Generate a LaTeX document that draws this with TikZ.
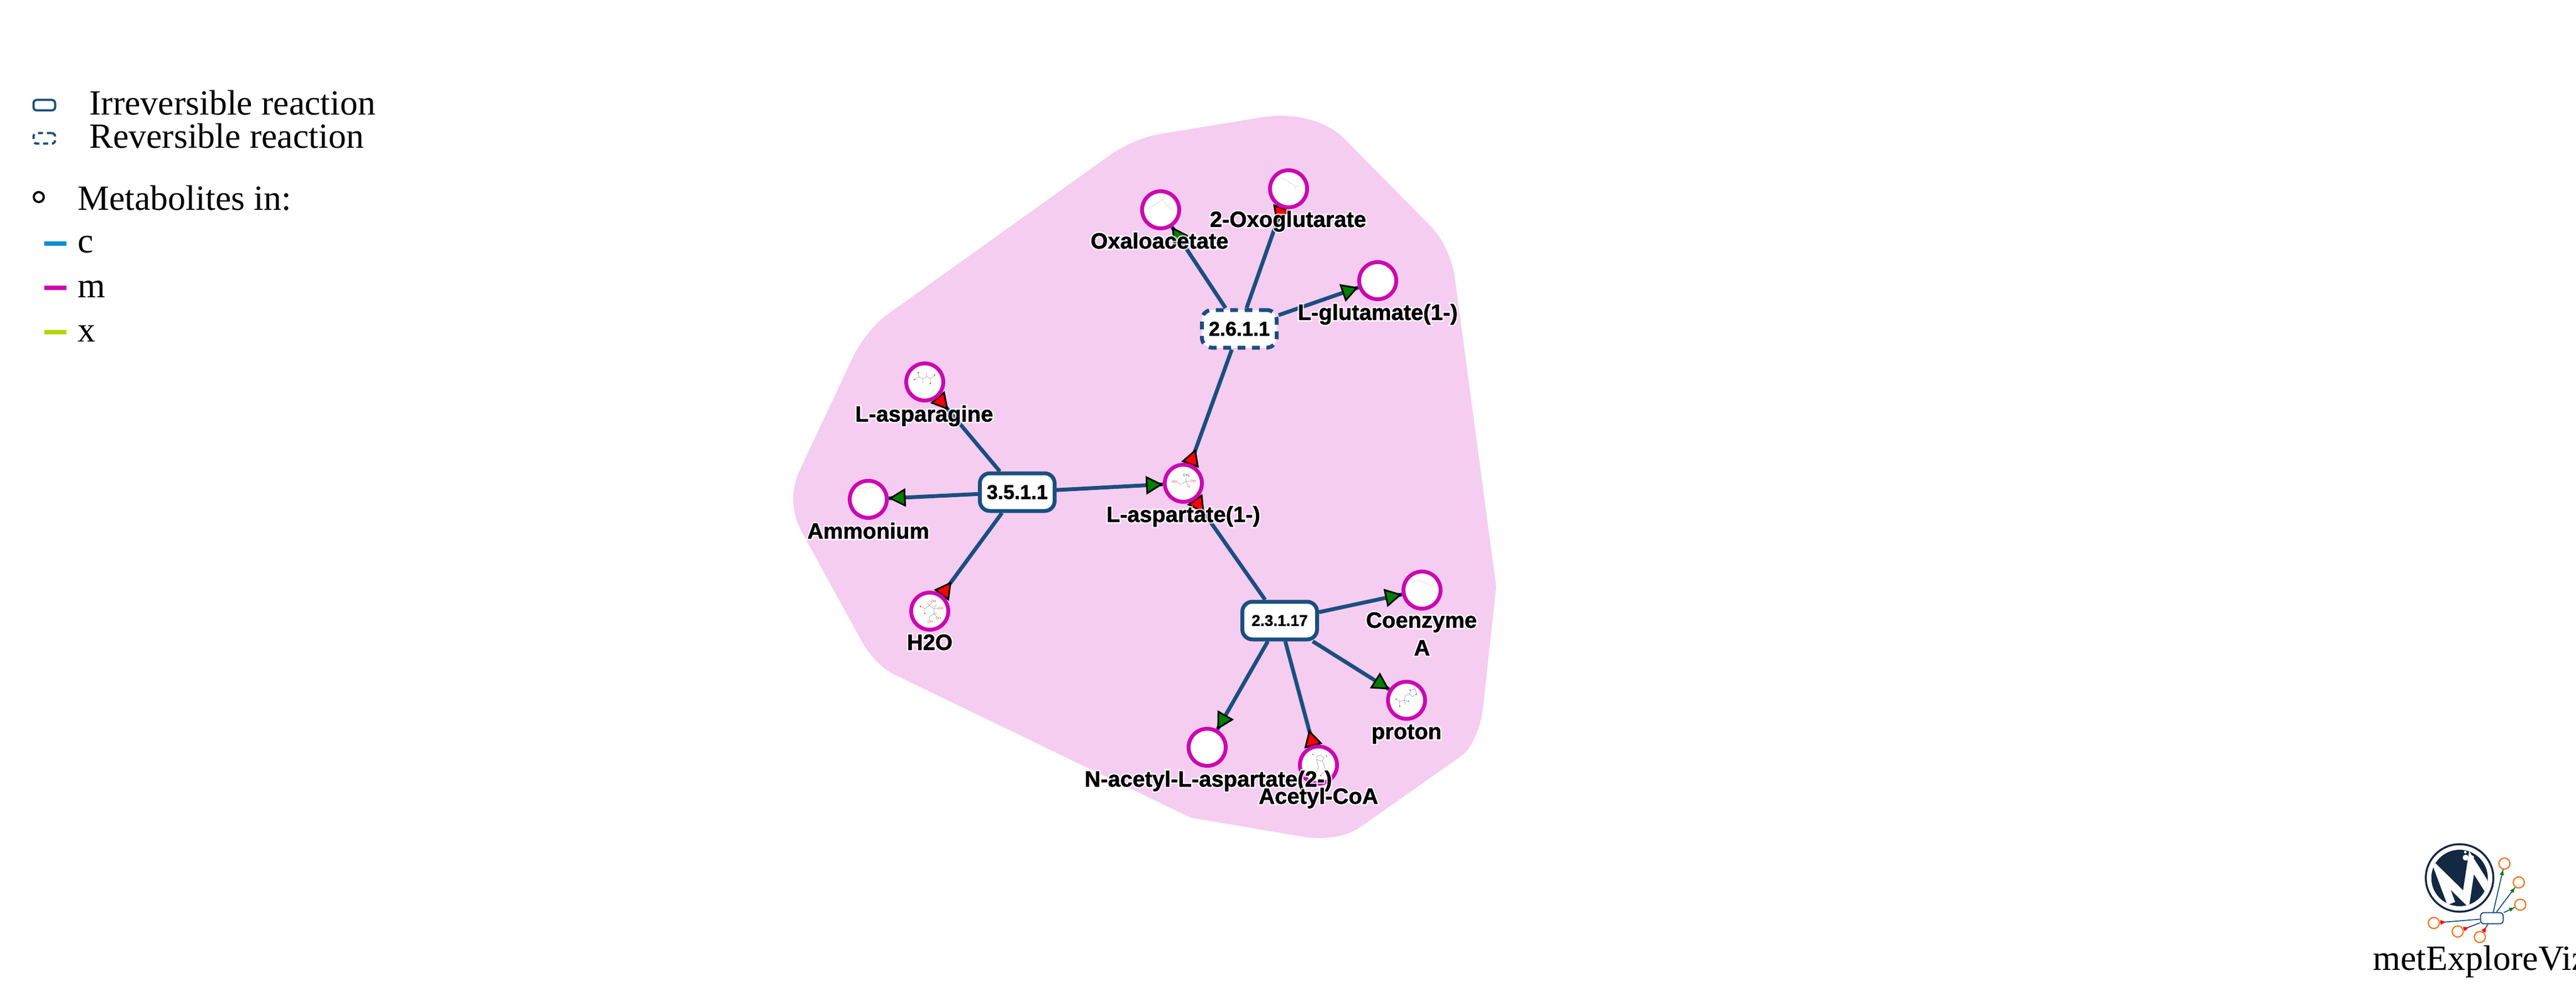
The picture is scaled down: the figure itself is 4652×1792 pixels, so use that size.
\documentclass[tikz,border=0pt]{standalone}
\usepackage{fontspec}
\usetikzlibrary{calc}
\setmainfont{Liberation Serif}
\newfontfamily\labfont[FakeBold=1.2]{Liberation Sans Bold}
\newfontfamily\halfont[FakeBold=14]{Liberation Sans Bold}
\newfontfamily\tinyfont{Liberation Sans}
\definecolor{hullc}{HTML}{F5CDF0}
\definecolor{magc}{HTML}{CC08B0}
\definecolor{linkc}{HTML}{1A4F7F}
\definecolor{cyanc}{HTML}{0A8FD4}
\definecolor{limec}{HTML}{B5D600}
\definecolor{greenc}{HTML}{008000}
\definecolor{logoc}{HTML}{132842}
\definecolor{orangec}{HTML}{F47A2A}
\newcommand\lbl[1]{\leavevmode\rlap{\pgfsetfillopacity{.75}\pgfsetstrokeopacity{.75}{\halfont\color{white}#1}}\pgfsetfillopacity{1}\pgfsetstrokeopacity{1}#1}
\newcommand\prodhead[2]{\path[prodtip] ($(#2)!20pt!(#1)$) -- ($($(#2)!33pt!(#1)$)!7.2pt!90:(#2)$) -- ($($(#2)!33pt!(#1)$)!7.2pt!-90:(#2)$) -- cycle;}
\newcommand\reacthead[2]{\path[reacttip] ($(#2)!31.5pt!(#1)$) -- ($($(#2)!18.5pt!(#1)$)!7.2pt!90:(#2)$) -- ($($(#2)!18.5pt!(#1)$)!7.2pt!-90:(#2)$) -- cycle;}
\newcommand\smallprod[2]{\fill[greenc] ($(#2)!6.5pt!(#1)$) -- ($($(#2)!10.5pt!(#1)$)!2pt!90:(#2)$) -- ($($(#2)!10.5pt!(#1)$)!2pt!-90:(#2)$) -- cycle;}
\newcommand\smallreact[2]{\fill[red] ($(#2)!10.5pt!(#1)$) -- ($($(#2)!6pt!(#1)$)!2.2pt!90:(#2)$) -- ($($(#2)!6pt!(#1)$)!2.2pt!-90:(#2)$) -- cycle;}
\pgfdeclarelayer{hullayer}
\pgfdeclarelayer{edgelayer}
\pgfsetlayers{hullayer,edgelayer,main}
\tikzset{
  metab/.style={circle,draw=magc,fill=white,line width=3.5pt,minimum size=33.5pt,inner sep=0pt},
  rxn/.style={rectangle,draw=linkc,fill=white,line width=3.5pt,rounded corners=9pt,minimum width=67.5pt,minimum height=34pt,inner sep=0pt,font=\labfont\fontsize{18}{18}\selectfont},
  rxnsmall/.style={rxn,font=\labfont\fontsize{14}{14}\selectfont},
  revrxn/.style={rxn,dash pattern=on 7pt off 6pt},
  link/.style={draw=linkc,line width=3.5pt},
  lab/.style={anchor=base,inner sep=0pt,font=\labfont\fontsize{20}{20}\selectfont},
  legtext/.style={anchor=base west,inner sep=0pt,font=\fontsize{32}{32}\selectfont},
  prodtip/.style={fill=greenc,draw=black,line width=1.5pt,line join=miter},
  reacttip/.style={fill=red,draw=black,line width=1.5pt,line join=miter},
  legrxn/.style={rectangle,draw=linkc,line width=2pt,rounded corners=3pt,minimum width=19.5pt,minimum height=9.5pt,inner sep=0pt},
  legdash/.style={legrxn,dash pattern=on 4.5pt off 3.5pt},
  legmet/.style={circle,draw=black,line width=2pt,minimum size=9pt,inner sep=0pt},
  legline/.style={line width=4pt},
  mol/.style={draw=black!35,line width=.35pt},
  molfaint/.style={draw=black!18,line width=.3pt},
  oxy/.style={fill=red!70},
  moltxt/.style={inner sep=0pt,font=\tinyfont\fontsize{3.2}{3.2}\selectfont},
  smet/.style={circle,draw=orangec,fill=white,line width=1.2pt,minimum size=10pt,inner sep=0pt},
  srxn/.style={rectangle,draw=linkc,fill=white,line width=1pt,rounded corners=3pt,minimum width=20.5pt,minimum height=10pt,inner sep=0pt},
  slink/.style={draw=linkc,line width=.9pt},
}
\begin{document}
\begin{tikzpicture}[x=.5pt,y=-.5pt]
\useasboundingbox (0,0) rectangle (4652,1792);
\begin{pgfonlayer}{hullayer}
\fill[white] (0,0) rectangle (4652,1792);
\fill[hullc] (2095,242) -- (2284,211) .. controls (2339,203) and (2396,219) .. (2427,250) -- (2585,410)
  .. controls (2605,431) and (2622,467) .. (2627,500) -- (2702,1060) -- (2677,1288)
  .. controls (2671,1323) and (2655,1355) .. (2637,1367) -- (2455,1495)
  .. controls (2431,1512) and (2389,1518) .. (2350,1511) -- (2150,1477) -- (1614,1218)
  .. controls (1594,1208) and (1571,1185) .. (1557,1160) -- (1449,963)
  .. controls (1431,930) and (1425,890) .. (1445,848) -- (1538,650)
  .. controls (1553,618) and (1578,586) .. (1600,570) -- (2002,282)
  .. controls (2028,263) and (2065,247) .. cycle;
\end{pgfonlayer}

% metabolites
\node[metab] (asn) at (1670,690) {};
\node[metab] (nh) at (1568,902) {};
\node[metab] (hho) at (1679,1104) {};
\node[metab] (asp) at (2137,873) {};
\node[metab] (oaa) at (2096,379) {};
\node[metab] (oxo) at (2327,341) {};
\node[metab] (glu) at (2488,507) {};
\node[metab] (coa) at (2568,1066) {};
\node[metab] (pro) at (2540,1265) {};
\node[metab] (nac) at (2180,1350) {};
\node[metab] (acc) at (2381,1382) {};
% reactions
\node[rxn] (ra) at (1837,889) {3.5.1.1};
\node[revrxn] (rb) at (2238,594) {2.6.1.1};
\node[rxnsmall] (rc) at (2311,1121) {2.3.1.17};

\begin{pgfonlayer}{edgelayer}
\foreach \r/\m in {ra/asn,ra/nh,ra/hho,ra/asp,rb/oaa,rb/oxo,rb/glu,rb/asp,rc/asp,rc/coa,rc/pro,rc/nac,rc/acc}
  \draw[link] (\r) -- (\m);
\reacthead{ra}{asn}\reacthead{ra}{hho}\prodhead{ra}{nh}\prodhead{ra}{asp}
\prodhead{rb}{oaa}\reacthead{rb}{oxo}\prodhead{rb}{glu}\reacthead{rb}{asp}
\reacthead{rc}{asp}\reacthead{rc}{acc}\prodhead{rc}{coa}\prodhead{rc}{pro}\prodhead{rc}{nac}
\end{pgfonlayer}

% molecule sketches inside the metabolites
\begin{scope}[shift={(1625,645)},x=.16667pt,y=-.16667pt]
\draw[mol] (78,122)--(103,108)--(100,85) (103,108)--(125,118)--(145,105)--(165,117)--(188,103) (165,117)--(165,143) (125,118)--(125,143) (145,105)--(145,83);
\fill[oxy] (78,122) circle (.8pt) (100,85) circle (.8pt) (188,97) circle (.8pt) (165,143) circle (.8pt);
\end{scope}
\begin{scope}[shift={(1634,1059)},x=.16667pt,y=-.16667pt]
\draw[mol] (92,112)--(108,122)--(108,143) (108,122)--(133,105)--(158,122)--(158,148)--(133,165)--(133,185) (133,105)--(148,88) (133,105)--(122,88) (158,122)--(170,100) (158,122)--(180,122) (158,148)--(180,150) (158,148)--(175,170);
\fill[oxy] (85,110) circle (.8pt) (108,148) circle (.8pt);
\node[moltxt,text=red!70] (wa) at (155,82) {OH};
\node[moltxt,text=red!70] (wb) at (193,122) {OH};
\node[moltxt,text=red!70] (wc) at (182,175) {OH};
\node[moltxt,text=red!70] (wd) at (138,193) {OH};
\end{scope}
\begin{scope}[shift={(2000,780)},x=.16667pt,y=-.16667pt]
\draw[mol] (378,272)--(395,286)--(425,268)--(425,245) (425,268)--(445,268) (425,268)--(438,290);
\node[moltxt,text=red!80] (aa) at (363,270) {HO};
\node[moltxt,text=red!80] (ab) at (463,267) {OH};
\node[moltxt,text=black!70] (ac) at (430,238) {CH\textsubscript{3}};
\node[moltxt,text=black!50] (ad) at (440,297) {H};
\end{scope}
\begin{scope}[shift={(2495,1220)},x=.16667pt,y=-.16667pt]
\draw[mol] (150,100)--(160,80)--(180,72)--(190,100)--(168,115)--cycle (150,100)--(128,110)--(122,135)--(98,140)--(78,128) (98,140)--(98,165) (122,135)--(140,140) (122,135)--(130,158);
\fill[blue!60] (155,80) circle (.7pt) (188,103) circle (.7pt) (145,140) circle (.7pt);
\fill[oxy] (78,128) circle (.7pt) (98,167) circle (.8pt);
\end{scope}
\begin{scope}[shift={(2336,1337)},x=.16667pt,y=-.16667pt]
\draw[mol] (125,90)--(145,80)--(165,95)--(155,115)--(125,105)--cycle (155,115)--(170,140)--(170,165)--(150,190) (125,105)--(135,150)--(120,180);
\fill[oxy] (105,78) circle (.7pt) (178,87) circle (.7pt) (147,192) circle (.7pt);
\end{scope}
\draw[molfaint] (2070,378)--(2085,370)--(2100,360)--(2108,372)--(2118,380) (2100,360)--(2105,350);
\draw[molfaint] (2311,320)--(2321,325)--(2329,330)--(2338,335)--(2339,344) (2338,335)--(2346,337);
\draw[molfaint] (2550,1053)--(2563,1048)--(2578,1055)--(2589,1059);
\draw[molfaint] (1550,881)--(1556,882)--(1562,880)--(1568,882)--(1574,880)--(1586,881);

% labels
\node[lab] (tasn) at (1669,761.6) {\lbl{L-asparagine}};
\node[lab] (tnh) at (1568,973) {\lbl{Ammonium}};
\node[lab] (thho) at (1679,1174) {\lbl{H2O}};
\node[lab] (tasp) at (2137,943) {\lbl{L-aspartate(1-)}};
\node[lab] (toaa) at (2094,449) {\lbl{Oxaloacetate}};
\node[lab] (toxo) at (2326,410) {\lbl{2-Oxoglutarate}};
\node[lab] (tglu) at (2488,578) {\lbl{L-glutamate(1-)}};
\node[lab] (tcoa) at (2567,1134) {\lbl{Coenzyme}};
\node[lab] (tcob) at (2568,1184) {\lbl{A}};
\node[lab] (tpro) at (2540,1335) {\lbl{proton}};
\node[lab] (tnac) at (2182,1421) {\lbl{N-acetyl-L-aspartate(2-)}};
\node[lab] (tacc) at (2381,1452) {\lbl{Acetyl-CoA}};

% legend
\node[legrxn] (lega) at (80,190) {};
\node[legdash] (legb) at (80,250) {};
\node[legmet] (legc) at (70,356) {};
\node[legtext] (ltir) at (161,208) {Irreversible reaction};
\node[legtext] (ltre) at (161,268) {Reversible reaction};
\node[legtext] (ltme) at (140,380) {Metabolites in:};
\node[legtext] (ltc) at (140,457) {c};
\node[legtext] (ltm) at (140,537) {m};
\node[legtext] (ltx) at (140,617) {x};
\draw[legline,cyanc] (80,440) -- (120,440);
\draw[legline,magc] (80,520) -- (120,520);
\draw[legline,limec] (80,600) -- (120,600);

% logo
\draw[logoc,line width=1.75pt] (4441.7,1586) circle (30.5pt);
\fill[logoc] (4441.7,1586) circle (25.5pt);
\begin{scope}
\clip (4441.7,1586) circle (25.5pt);
\draw[white,line width=7.5pt,line join=miter] (4426.7,1632)--(4406.7,1578.3)--(4453.3,1624)--(4463.3,1558.3)--(4497,1612);
\end{scope}
\fill[white] (4452.7,1549.3) circle (2.7pt) (4465,1548.3) circle (1.4pt) (4452,1539.3) circle (1.2pt);
\node[smet] (sa) at (4522.7,1560) {};
\node[smet] (sb) at (4548.7,1594) {};
\node[smet] (sc) at (4551.3,1634.3) {};
\node[smet] (sd) at (4395.3,1667.3) {};
\node[smet] (se) at (4438.3,1682.7) {};
\node[smet] (sf) at (4478.3,1692.7) {};
\node[srxn] (sr) at (4500,1658.7) {};
\begin{pgfonlayer}{edgelayer}
\foreach \m in {sa,sb,sc,sd,se,sf} \draw[slink] (sr) -- (\m);
\smallprod{sr}{sa}\smallprod{sr}{sb}\smallprod{sr}{sc}\smallreact{sr}{sd}\smallreact{sr}{se}\smallreact{sr}{sf}
\end{pgfonlayer}
\node[legtext] (lgt) at (4285,1752) {metExploreViz};
\end{tikzpicture}
\end{document}
